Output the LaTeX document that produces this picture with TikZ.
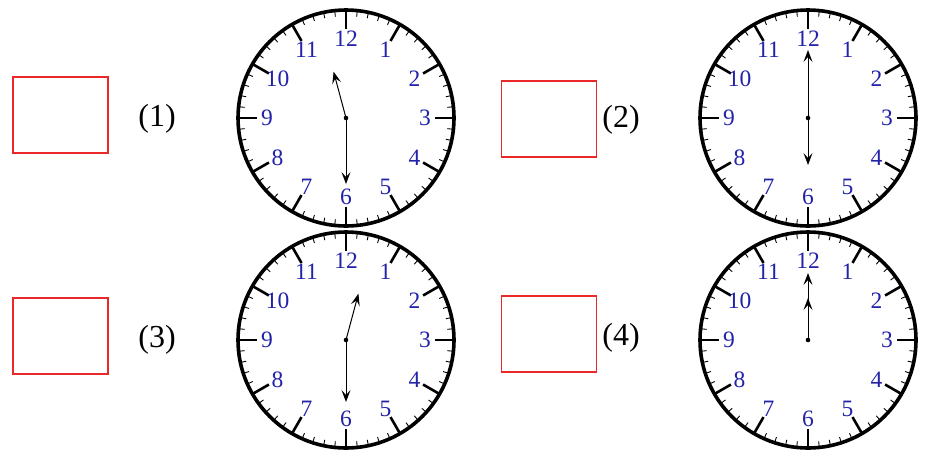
\documentclass[tikz,border=0pt]{standalone}
\usepackage{fontspec}
\setmainfont{Liberation Serif}
\usetikzlibrary{arrows.meta,calc}
\definecolor{numblue}{RGB}{35,35,170}
\definecolor{boxred}{RGB}{235,40,40}
\tikzset{
 rim/.style={line width=3.6pt},
 hourtick/.style={line width=2.6pt},
 mintick/.style={line width=0.9pt},
 hand/.style={line width=1pt, -{Stealth[length=12pt,width=9pt,inset=5pt]}},
 num/.style={text=numblue, font=\fontsize{23.5}{23.5}\selectfont, inner sep=0pt},
 answer/.style={draw=boxred, line width=1.2pt, minimum width=95pt, minimum height=76pt, inner sep=0pt},
 lbl/.style={font=\fontsize{32}{32}\selectfont, inner sep=0pt}
}
% #1 name, #2 x, #3 y, #4 hour angle, #5 hour length, #6 minute angle, #7 minute length
\newcommand\mkclock[7]{%
 \coordinate (#1) at (#2,#3);
 \fill[white] (#1) circle[radius=108pt];
 \foreach \i in {0,...,59}{%
  \pgfmathtruncatemacro\mm{mod(\i,5)}%
  \pgfmathsetmacro\ang{6*\i-90}%
  \ifnum\mm=0
   \draw[hourtick] ($(#1)+(\ang:109)$) -- ($(#1)+(\ang:89)$);
  \else
   \draw[mintick] ($(#1)+(\ang:108)$) -- ($(#1)+(\ang:102)$);
  \fi
 }
 \draw[rim] (#1) circle[radius=108pt];
 \foreach \n in {1,...,12}{%
  \pgfmathsetmacro\ang{30*\n-90}%
  \node[num] (#1-n\n) at ($(#1)+(\ang:79)$) {\n};
 }
 \coordinate (#1-h) at ($(#1)+(#4:#5)$);
 \coordinate (#1-m) at ($(#1)+(#6:#7)$);
 \draw[hand] (#1) -- (#1-m);
 \draw[hand] (#1) -- (#1-h);
 \fill (#1) circle[radius=2.3pt];
}
\begin{document}
\begin{tikzpicture}[x=1pt,y=-1pt]
 \fill[white] (0,0) rectangle (936,451);
 \useasboundingbox (0,0) rectangle (936,451);
 \mkclock{c1}{346}{118}{255}{48}{90}{66}
 \mkclock{c2}{808}{118}{90}{47}{-90}{68}
 \mkclock{c3}{346}{340}{-75}{48}{90}{62}
 \mkclock{c4}{808}{340}{-90}{42}{-90}{67}
 \node[answer] (b1) at (60.5,115) {};
 \node[answer] (b2) at (549,119) {};
 \node[answer] (b3) at (60.5,336) {};
 \node[answer] (b4) at (549,334) {};
 \node[lbl] (l1) at (157,119) {(1)};
 \node[lbl] (l2) at (621,120) {(2)};
 \node[lbl] (l3) at (157,340) {(3)};
 \node[lbl] (l4) at (621,338) {(4)};
\end{tikzpicture}
\end{document}
